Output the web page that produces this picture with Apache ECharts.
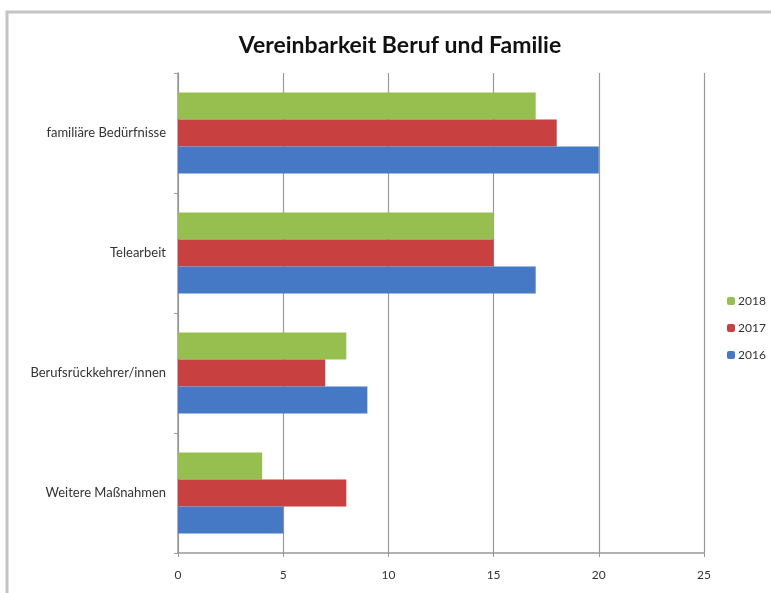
<!DOCTYPE html>
<html><head><meta charset="utf-8">
<script src="https://cdn.jsdelivr.net/npm/echarts@6/dist/echarts.min.js"></script>
<style>html,body{margin:0;padding:0;background:#fff}#c{width:771px;height:593px}</style>
</head><body><div id="c"></div>
<script>
const categories = ['familiäre Bedürfnisse', 'Telearbeit', 'Berufsrückkehrer/innen', 'Weitere Maßnahmen'];
const years = ['2018', '2017', '2016'];
const values2018 = [17, 15, 8, 4];
const values2017 = [18, 15, 7, 8];
const values2016 = [20, 17, 9, 5];
const xTicks = [0, 5, 10, 15, 20, 25];

const colors = { '2018': '#96bf4f', '2017': '#c8403f', '2016': '#4579c6' };
const dataByYear = { '2018': values2018, '2017': values2017, '2016': values2016 };
const font = 'Lato, "Open Sans", sans-serif';

const chart = echarts.init(document.getElementById('c'));
chart.setOption({
  animation: false,
  backgroundColor: '#fff',
  title: { text: 'Vereinbarkeit Beruf und Familie', left: 395, top: 29, textAlign: 'center',
    textStyle: { fontFamily: font, fontSize: 23, fontWeight: 'bold', color: '#111' } },
  graphic: [{ type: 'rect', shape: { x: 7, y: 12, width: 800, height: 620 },
    style: { fill: 'none', stroke: '#c4c4c4', lineWidth: 3 }, silent: true }],
  legend: { orient: 'vertical', left: 722, top: 290, itemWidth: 8, itemHeight: 8, itemGap: 15,
    data: years, textStyle: { fontFamily: font, fontSize: 12, color: '#333', padding: [0, 0, 0, -2] } },
  grid: { left: 178, right: 67, top: 73, bottom: 40, containLabel: false },
  xAxis: { type: 'value', min: xTicks[0], max: xTicks[xTicks.length - 1], interval: 5,
    axisLine: { show: true, lineStyle: { color: '#999', width: 1.5 } },
    axisTick: { show: true, length: 4, lineStyle: { color: '#999' } },
    splitLine: { show: true, lineStyle: { color: '#999', width: 1.2 } },
    axisLabel: { fontFamily: font, fontSize: 12, color: '#333', margin: 16 } },
  yAxis: { type: 'category', data: categories, inverse: true,
    axisLine: { show: true, lineStyle: { color: '#999', width: 1.5 } },
    axisTick: { show: true, length: 4, lineStyle: { color: '#999' } },
    axisLabel: { fontFamily: font, fontSize: 13, color: '#333', margin: 12 } },
  series: years.map(y => ({
    name: y, type: 'bar', data: dataByYear[y], barGap: '0%', barCategoryGap: '32.5%',
    itemStyle: { color: colors[y] }
  }))
});
</script></body></html>
